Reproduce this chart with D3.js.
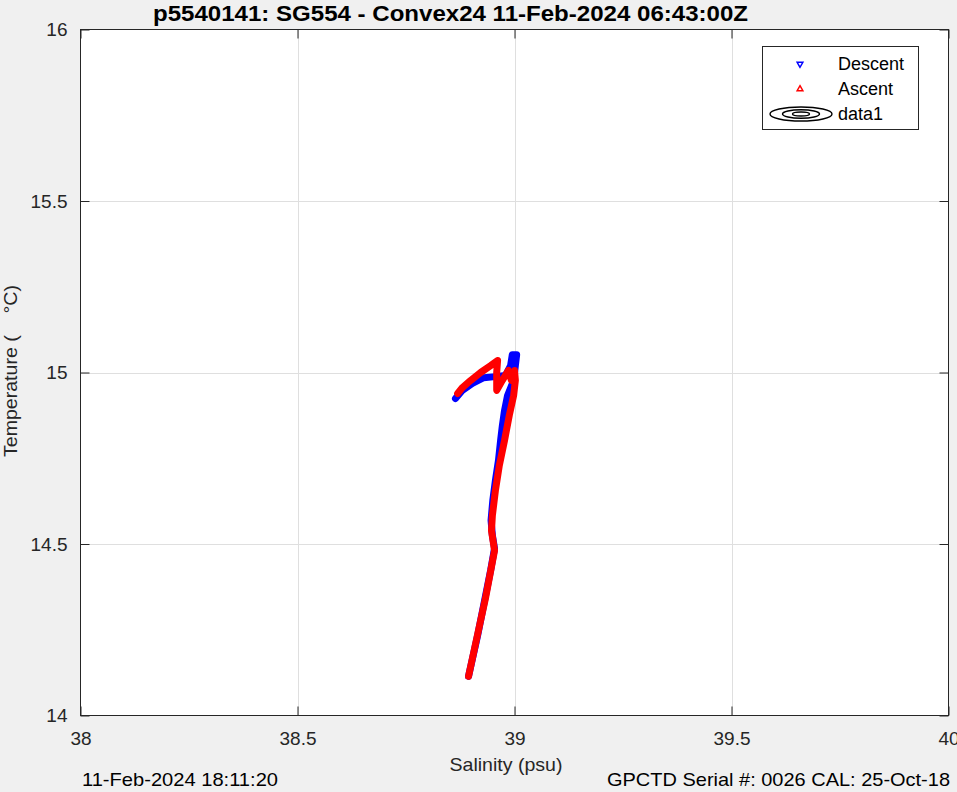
<!DOCTYPE html>
<html>
<head>
<meta charset="utf-8">
<script src="https://cdn.jsdelivr.net/npm/d3@7"></script>
<style>
  html, body { margin: 0; padding: 0; background: #f0f0f0; }
  svg { display: block; font-family: "Liberation Sans", Arial, Helvetica, sans-serif; }
</style>
</head>
<body>
<svg id="chart" width="957" height="792"></svg>
<script>
// ---- Data ----
const titleText = "p5540141: SG554 - Convex24 11-Feb-2024 06:43:00Z";
const xLabel = "Salinity (psu)";
const yLabel = "Temperature (\u00A0\u00A0\u00A0\u00A0\u00B0C)";
const footLeft = "11-Feb-2024 18:11:20";
const footRight = "GPCTD Serial #: 0026 CAL: 25-Oct-18";
const xDomain = [38, 40];
const yDomain = [14, 16];
const xTicks = [38, 38.5, 39, 39.5, 40];
const yTicks = [14, 14.5, 15, 15.5, 16];
const legendLabels = ["Descent", "Ascent", "data1"];

// Descent (blue) salinity / temperature
const descentS = [38.864, 38.880, 38.903, 38.929, 38.956, 38.979, 38.991, 38.995, 39.005, 38.998,
                  38.984, 38.977, 38.972, 38.968, 38.963, 38.956, 38.950, 38.946, 38.949, 38.954,
                  38.945, 38.931, 38.915, 38.894];
const descentT = [14.924, 14.948, 14.968, 14.985, 14.988, 14.991, 15.020, 15.052, 15.052, 14.977,
                  14.933, 14.889, 14.845, 14.802, 14.743, 14.685, 14.627, 14.569, 14.525, 14.487,
                  14.423, 14.335, 14.233, 14.114];
// Ascent (red) salinity / temperature
const ascentS = [38.894, 38.912, 38.933, 38.954, 38.947, 38.949, 38.956, 38.965, 38.977, 38.988,
                 38.998, 39.002, 39.000, 38.993, 38.986, 38.972, 38.959, 38.959, 38.961, 38.945,
                 38.922, 38.899, 38.880, 38.869];
const ascentT = [14.114, 14.219, 14.341, 14.481, 14.539, 14.583, 14.656, 14.729, 14.802, 14.875,
                 14.933, 14.977, 15.006, 14.977, 15.006, 14.977, 14.948, 15.000, 15.035, 15.020,
                 15.000, 14.977, 14.956, 14.939];

// ---- Layout ----
const svg = d3.select("#chart");
const W = 957, H = 792;
const m = { left: 80.5, right: 948.5, top: 29.5, bottom: 715.5 };
const axisColor = "#262626";
const gridColor = "#dfdfdf";
const fs = "19px";

svg.append("rect").attr("width", W).attr("height", H).attr("fill", "#f0f0f0");

const x = d3.scaleLinear().domain(xDomain).range([m.left, m.right]);
const y = d3.scaleLinear().domain(yDomain).range([m.bottom, m.top]);

svg.append("rect")
  .attr("x", m.left).attr("y", m.top)
  .attr("width", m.right - m.left).attr("height", m.bottom - m.top)
  .attr("fill", "#ffffff");

// grid
const grid = svg.append("g");
grid.selectAll("line.gx").data(xTicks.slice(1, -1)).join("line")
  .attr("x1", d => Math.round(x(d)) + 0.5).attr("x2", d => Math.round(x(d)) + 0.5)
  .attr("y1", m.top).attr("y2", m.bottom)
  .attr("stroke", gridColor).attr("stroke-width", 1);
grid.selectAll("line.gy").data(yTicks.slice(1, -1)).join("line")
  .attr("y1", d => Math.round(y(d)) + 0.5).attr("y2", d => Math.round(y(d)) + 0.5)
  .attr("x1", m.left).attr("x2", m.right)
  .attr("stroke", gridColor).attr("stroke-width", 1);

// data
const descent = descentS.map((s, i) => [s, descentT[i]]);
const ascent = ascentS.map((s, i) => [s, ascentT[i]]);
const line = d3.line().x(d => x(d[0])).y(d => y(d[1]));

const plot = svg.append("g");
plot.append("path").attr("d", line(descent))
  .attr("fill", "none").attr("stroke", "#0000ff").attr("stroke-width", 7)
  .attr("stroke-linejoin", "round").attr("stroke-linecap", "round");
plot.append("path").attr("d", line(ascent))
  .attr("fill", "none").attr("stroke", "#ff0000").attr("stroke-width", 7)
  .attr("stroke-linejoin", "round").attr("stroke-linecap", "round");

// axes (ticks inside)
const tickLen = 9;
const xAxisB = d3.axisBottom(x).tickValues(xTicks).tickSize(-tickLen).tickPadding(tickLen + 7)
  .tickFormat(d3.format("~g"));
const yAxisL = d3.axisLeft(y).tickValues(yTicks).tickSize(-tickLen).tickPadding(tickLen + 4)
  .tickFormat(d3.format("~g"));
const xAxisT = d3.axisTop(x).tickValues(xTicks).tickSize(-tickLen).tickFormat("");
const yAxisR = d3.axisRight(y).tickValues(yTicks).tickSize(-tickLen).tickFormat("");

function style(g) {
  g.select(".domain").remove();
  g.selectAll("line").attr("stroke", axisColor);
  g.selectAll("text").attr("fill", axisColor).attr("font-size", fs)
    .attr("font-family", "Liberation Sans, Arial, sans-serif");
}
svg.append("g").attr("transform", `translate(0,${m.bottom})`).call(xAxisB).call(style);
svg.append("g").attr("transform", `translate(${m.left},0)`).call(yAxisL).call(style);
svg.append("g").attr("transform", `translate(0,${m.top})`).call(xAxisT).call(style);
svg.append("g").attr("transform", `translate(${m.right},0)`).call(yAxisR).call(style);

svg.append("rect")
  .attr("x", m.left).attr("y", m.top)
  .attr("width", m.right - m.left).attr("height", m.bottom - m.top)
  .attr("fill", "none").attr("stroke", axisColor).attr("stroke-width", 1);

// labels
svg.append("text").attr("x", 153).attr("y", 21)
  .attr("font-weight", "bold").attr("font-size", "22px")
  .attr("textLength", 595).attr("lengthAdjust", "spacingAndGlyphs")
  .attr("fill", "#000").text(titleText);
svg.append("text").attr("x", 506).attr("y", 771)
  .attr("text-anchor", "middle").attr("font-size", fs).attr("fill", axisColor)
  .attr("textLength", 113).attr("lengthAdjust", "spacingAndGlyphs").text(xLabel);
svg.append("text").attr("transform", `translate(17,371) rotate(-90)`)
  .attr("text-anchor", "middle").attr("font-size", "18px").attr("fill", axisColor)
  .attr("textLength", 172).attr("lengthAdjust", "spacingAndGlyphs").text(yLabel);
svg.append("text").attr("x", 82).attr("y", 786)
  .attr("font-size", fs).attr("fill", "#000")
  .attr("textLength", 196).attr("lengthAdjust", "spacingAndGlyphs").text(footLeft);
svg.append("text").attr("x", 607).attr("y", 786)
  .attr("font-size", fs).attr("fill", "#000")
  .attr("textLength", 343).attr("lengthAdjust", "spacingAndGlyphs").text(footRight);

// legend
const lg = svg.append("g");
lg.append("rect").attr("x", 762.5).attr("y", 46.5).attr("width", 156).attr("height", 83)
  .attr("fill", "#fff").attr("stroke", axisColor).attr("stroke-width", 1);
const rows = [64, 89, 114];
const tri = d3.symbol().type(d3.symbolTriangle).size(14);
lg.append("path").attr("d", tri()).attr("transform", `translate(800,${rows[0]}) rotate(180)`)
  .attr("fill", "none").attr("stroke", "#0000ff").attr("stroke-width", 1.5);
lg.append("path").attr("d", tri()).attr("transform", `translate(800,${rows[1]})`)
  .attr("fill", "none").attr("stroke", "#ff0000").attr("stroke-width", 1.5);
[[31, 7], [18.5, 4.2], [8.5, 2]].forEach(([rx, ry]) => {
  lg.append("ellipse").attr("cx", 801).attr("cy", rows[2]).attr("rx", rx).attr("ry", ry)
    .attr("fill", "none").attr("stroke", "#000").attr("stroke-width", 1.4);
});
legendLabels.forEach((t, i) => {
  lg.append("text").attr("x", 838).attr("y", rows[i] + 6)
    .attr("font-size", "18px").attr("fill", "#000").text(t);
});
</script>
</body>
</html>
